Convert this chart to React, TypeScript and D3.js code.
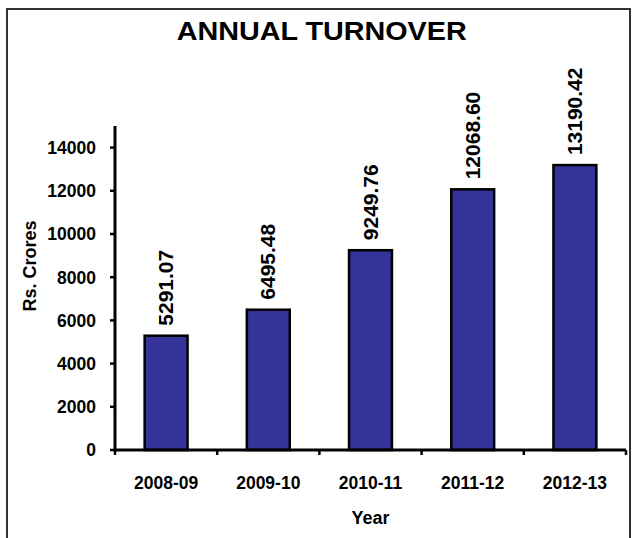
import React from "react";
import * as d3 from "d3";

const categories = ["2008-09", "2009-10", "2010-11", "2011-12", "2012-13"];
const values = [5291.07, 6495.48, 9249.76, 12068.6, 13190.42];
const valueLabels = ["5291.07", "6495.48", "9249.76", "12068.60", "13190.42"];
const yTicks = [0, 2000, 4000, 6000, 8000, 10000, 12000, 14000];
const title = "ANNUAL TURNOVER";
const xTitle = "Year";
const yTitle = "Rs. Crores";

const W = 635;
const H = 538;
const FONT = "'Liberation Sans', Arial, Helvetica, sans-serif";

function labelLength(s: string, em: number) {
  let w = 0;
  for (const ch of s) w += ch === "." ? 0.278 : 0.556;
  return w * em;
}

export default function App() {
  const x0 = 115, x1 = 626, yTop = 126, yBase = 450;
  const x = d3.scaleBand<string>().domain(categories).range([x0, x1]).paddingInner(0.58).paddingOuter(0.29);
  const y = d3.scaleLinear().domain([0, 15000]).range([yBase, yTop]);
  const step = (x1 - x0) / categories.length;
  const boundaries = d3.range(categories.length + 1).map((i) => x0 + i * step);

  return (
    <svg width={W} height={H} style={{ position: "absolute", left: 0, top: 0, background: "#fff" }} fontFamily={FONT}>
      <rect x={0} y={0} width={W} height={H} fill="#fff" />
      <rect x={7} y={9} width={623} height={H + 10} fill="none" stroke="#333" strokeWidth={2} />
      <text x={321.7} y={40} textAnchor="middle" fontSize={25} fontWeight="bold" textLength={290} lengthAdjust="spacingAndGlyphs">{title}</text>

      {/* bars */}
      {values.map((v, i) => (
        <rect key={i} x={x(categories[i])!} y={y(v)} width={x.bandwidth()} height={yBase - y(v)} fill="#333399" stroke="#000" strokeWidth={2.5} />
      ))}

      {/* value labels */}
      {values.map((v, i) => {
        const cx = x(categories[i])! + x.bandwidth() / 2;
        const ty = y(v) - 10;
        return (
          <text key={i} transform={`translate(${cx},${ty}) rotate(-90)`} dy="0.36em" fontSize={19.5} fontWeight="bold" textAnchor="start" textLength={labelLength(valueLabels[i], 21)} lengthAdjust="spacingAndGlyphs">{valueLabels[i]}</text>
        );
      })}

      {/* y axis */}
      <line x1={x0} x2={x0} y1={yTop} y2={yBase + 1.5} stroke="#000" strokeWidth={3} />
      {yTicks.map((t) => (
        <g key={t}>
          <line x1={x0 - 5} x2={x0} y1={y(t)} y2={y(t)} stroke="#000" strokeWidth={2.5} />
          <text x={96} y={y(t)} dy="0.36em" textAnchor="end" fontSize={17.5} fontWeight="bold">{t}</text>
        </g>
      ))}

      {/* x axis */}
      <line x1={x0 - 1.5} x2={x1} y1={yBase} y2={yBase} stroke="#000" strokeWidth={3} />
      {boundaries.map((b, i) => (
        <line key={i} x1={b} x2={b} y1={yBase} y2={yBase + 5} stroke="#000" strokeWidth={2.5} />
      ))}
      {categories.map((c) => (
        <text key={c} x={x(c)! + x.bandwidth() / 2} y={483} dy="0.36em" textAnchor="middle" fontSize={17.5} fontWeight="bold">{c}</text>
      ))}

      <text x={(x0 + x1) / 2} y={518} dy="0.36em" textAnchor="middle" fontSize={18} fontWeight="bold">{xTitle}</text>
      <text transform={`translate(30,266) rotate(-90)`} dy="0.36em" textAnchor="middle" fontSize={18} fontWeight="bold">{yTitle}</text>
    </svg>
  );
}
